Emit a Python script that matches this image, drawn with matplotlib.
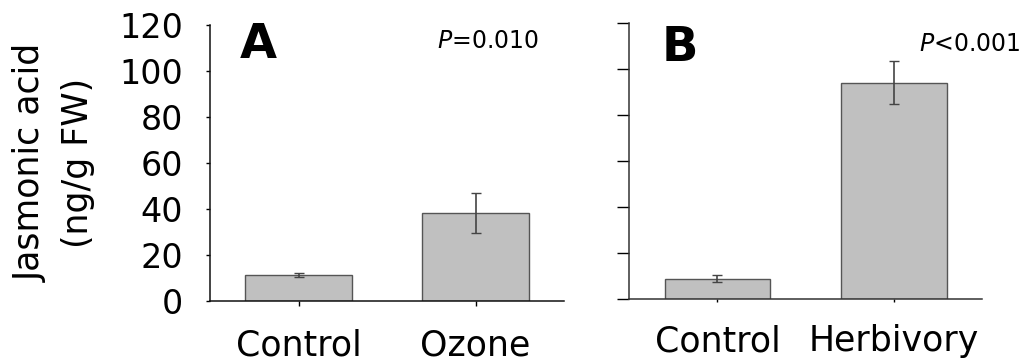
import numpy as np
import matplotlib
matplotlib.use("Agg")
import matplotlib.pyplot as plt

# Panel A: ozone treatment
cats_a = ["Control", "Ozone"]
ja_a = [11.3, 38.4]
err_a = [0.8, 8.7]

# Panel B: herbivory treatment
cats_b = ["Control", "Herbivory"]
ja_b = [8.8, 94.0]
err_b = [1.5, 9.2]

yticks = [0, 20, 40, 60, 80, 100, 120]

plt.rcParams['font.family'] = 'DejaVu Sans'
plt.rcParams['mathtext.fontset'] = 'dejavusans'

fig = plt.figure(figsize=(10.21, 3.62), dpi=100)
ax1 = fig.add_axes([0.2057, 0.1685, 0.3467, 0.7624])
ax2 = fig.add_axes([0.6164, 0.1740, 0.3452, 0.7633])


def draw_panel(ax, cats, vals, errs, spine_col):
    x = np.arange(len(cats))
    ax.bar(x, vals, width=0.6, color='#c0c0c0', edgecolor='#555555',
           linewidth=1.0, zorder=2)
    ax.errorbar(x, vals, yerr=errs, fmt='none', ecolor='#444444',
                elinewidth=1.2, capsize=3.5, capthick=1.0, zorder=3)
    ax.set_xlim(-0.5, 1.5)
    ax.set_ylim(0, 120)
    ax.set_yticks(yticks)
    ax.set_xticks(x)
    ax.set_xticklabels(cats, fontsize=25)
    for s in ['top', 'right']:
        ax.spines[s].set_visible(False)
    for s in ['left', 'bottom']:
        ax.spines[s].set_color(spine_col)
        ax.spines[s].set_linewidth(1.1)


draw_panel(ax1, cats_a, ja_a, err_a, '#111111')
draw_panel(ax2, cats_b, ja_b, err_b, '#333333')

ax1.tick_params(axis='y', direction='out', length=3, width=1, pad=16.5,
                labelsize=24)
ax1.tick_params(axis='x', direction='out', length=3.5, width=1, pad=16)
ax2.tick_params(axis='y', direction='out', length=8.6, width=1,
                labelleft=False)
ax2.tick_params(axis='x', direction='out', length=2, width=1, pad=16)

ax1.text(0.085, 0.88, "A", transform=ax1.transAxes, fontsize=34.5,
         fontweight='bold', ha='left', va='baseline')
ax2.text(0.092, 0.861, "B", transform=ax2.transAxes, fontsize=34.5,
         fontweight='bold', ha='left', va='baseline')

ax1.text(0.786, 0.917, r"$\mathit{P}$=0.010", transform=ax1.transAxes,
         fontsize=17, ha='center', va='baseline')
ax2.text(0.9665, 0.8976, r"$\mathit{P}$<0.001", transform=ax2.transAxes,
         fontsize=17, ha='center', va='baseline')

fig.text(0.0535, 1 - 163 / 362, "Jasmonic acid\n(ng/g FW)", rotation=90,
         fontsize=25, ha='center', va='center', multialignment='center',
         linespacing=1.5)

fig.savefig("out.png", dpi=100)
